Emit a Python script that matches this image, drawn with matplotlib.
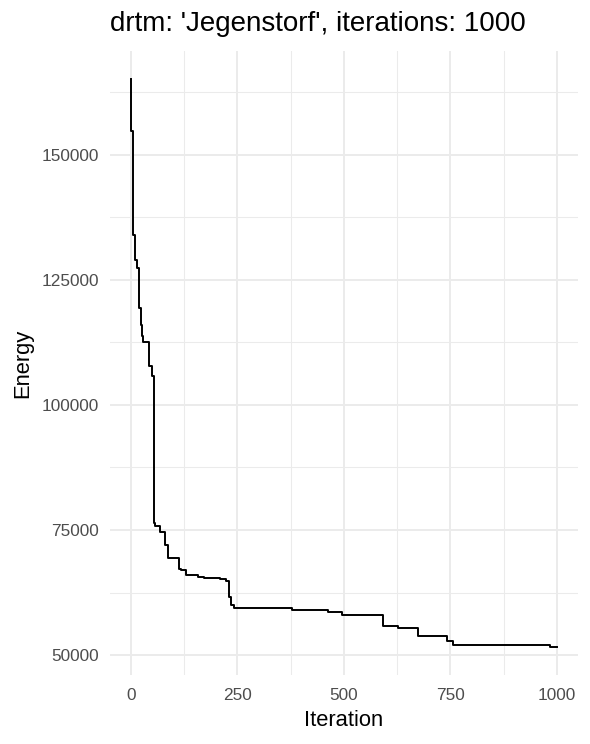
import matplotlib
matplotlib.use("Agg")
import matplotlib.pyplot as plt
from matplotlib.ticker import MultipleLocator

plt.rcParams['font.family'] = ['Liberation Sans', 'DejaVu Sans']

# best energy found so far
iteration = [0, 1, 5, 9, 13, 18, 23, 26, 28, 42, 50, 53, 56, 68, 80, 88,
             113, 117, 129, 157, 171, 209, 223, 230, 235, 241, 377, 462,
             496, 593, 626, 673, 742, 756, 984, 1000]
energy = [165200, 154800, 134000, 129000, 127300, 119300, 116000, 113700,
          112600, 107800, 105700, 76400, 75900, 74700, 72000, 69500, 67200,
          67000, 66100, 65700, 65500, 65200, 64900, 61700, 60000, 59500,
          59000, 58700, 58100, 55900, 55500, 53900, 52800, 52000, 51600, 51600]

title = "drtm: 'Jegenstorf', iterations: 1000"
grid_col = "#EBEBEB"
tick_col = "#4D4D4D"

fig = plt.figure(figsize=(5.9, 7.44), dpi=100)
ax = fig.add_axes([0.186, 0.0922, 0.7937, 0.8398])

ax.plot(iteration, energy, color="black", lw=1.4, drawstyle="steps-post")

# ggplot style 5% expansion
xr = max(iteration) - min(iteration)
yr = max(energy) - min(energy)
ax.set_xlim(min(iteration) - 0.05 * xr, max(iteration) + 0.05 * xr)
ax.set_ylim(min(energy) - 0.05 * yr, max(energy) + 0.05 * yr)

ax.xaxis.set_major_locator(MultipleLocator(250))
ax.xaxis.set_minor_locator(MultipleLocator(125))
ax.yaxis.set_major_locator(MultipleLocator(25000))
ax.yaxis.set_minor_locator(MultipleLocator(12500))

ax.grid(which="major", color=grid_col, lw=1.4)
ax.grid(which="minor", color=grid_col, lw=0.75)
ax.set_axisbelow(True)
for s in ax.spines.values():
    s.set_visible(False)

ax.tick_params(which="both", length=0)
ax.tick_params(axis="x", labelsize=12.4, labelcolor=tick_col, pad=9)
ax.tick_params(axis="y", labelsize=12.4, labelcolor=tick_col, pad=7.7)

ax.set_xlabel("Iteration", fontsize=15.8, labelpad=5)
ax.set_ylabel("Energy", fontsize=15.8, labelpad=6)
ax.set_title(title, loc="left", fontsize=20, pad=14)

plt.savefig("out.png", dpi=100)
